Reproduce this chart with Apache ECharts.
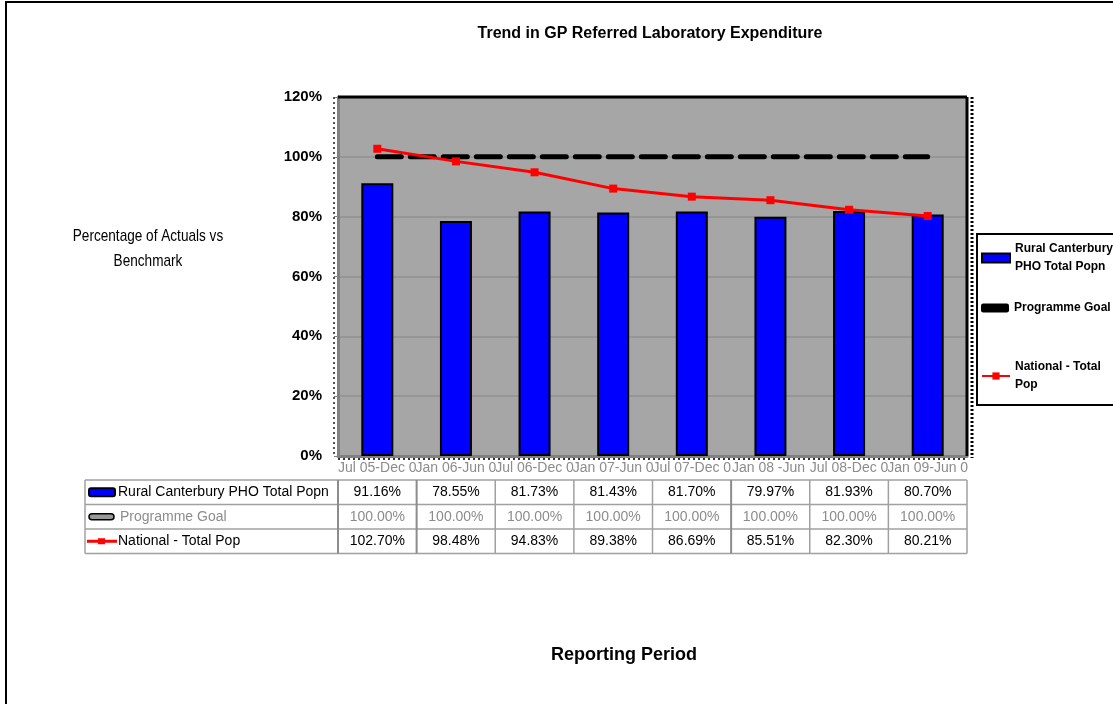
<!DOCTYPE html>
<html>
<head>
<meta charset="utf-8">
<script src="https://cdn.jsdelivr.net/npm/echarts@6/dist/echarts.min.js"></script>
<style>
  html, body { margin: 0; padding: 0; background: #fff; }
  #chart { width: 1113px; height: 704px; }
</style>
</head>
<body>
<div id="chart"></div>
<script>
// reporting periods (x axis)
const categories = ['Jul 05-Dec 05', 'Jan 06-Jun 06', 'Jul 06-Dec 06', 'Jan 07-Jun 07', 'Jul 07-Dec 07', 'Jan 08 -Jun 08', 'Jul 08-Dec 08', 'Jan 09-Jun 09']
// percentage values
const ruralValues = [91.16, 78.55, 81.73, 81.43, 81.70, 79.97, 81.93, 80.70]
const goalValues = [100, 100, 100, 100, 100, 100, 100, 100]
const nationalValues = [102.70, 98.48, 94.83, 89.38, 86.69, 85.51, 82.30, 80.21]
const seriesNames = ['Rural Canterbury PHO Total Popn', 'Programme Goal', 'National - Total Pop']
const legendLabels = ['Rural Canterbury\nPHO Total Popn', 'Programme Goal', 'National - Total\nPop']
const yTicks = [0, 20, 40, 60, 80, 100, 120]

const FONT = "'Liberation Sans', Arial, sans-serif"

// plot area
const gridLeft = 338, gridTop = 97, gridRight = 967, gridBottom = 456
const colW = (gridRight - gridLeft) / categories.length

// data table under the axis
const tableLeft = 85, tableTop = 480, rowH = 24.5
const tableRows = [ruralValues, goalValues, nationalValues]
const tableColors = ['#000', '#8c8c8c', '#000']

const buildTable = () => {
  const els = []
  const lineColor = '#a0a0a0'
  for (let r = 0; r <= tableRows.length; r++) {
    els.push({
      type: 'line', silent: true,
      shape: { x1: tableLeft, y1: tableTop + r * rowH, x2: gridRight, y2: tableTop + r * rowH },
      style: { stroke: lineColor, lineWidth: 1.5 }
    })
  }
  const xs = [tableLeft]
  for (let c = 0; c <= categories.length; c++) xs.push(gridLeft + c * colW)
  xs.forEach((x, i) => {
    const dark = i === 1 || i === 2 || i === 6
    els.push({
      type: 'line', silent: true,
      shape: { x1: x, y1: tableTop, x2: x, y2: tableTop + tableRows.length * rowH },
      style: { stroke: dark ? '#8c8c8c' : lineColor, lineWidth: dark ? 2 : 1.5 }
    })
  })
  tableRows.forEach((vals, r) => {
    const cy = tableTop + r * rowH + rowH / 2
    els.push({
      type: 'text', silent: true,
      style: { text: seriesNames[r], x: r === 1 ? 120 : 118, y: cy, fill: tableColors[r], font: '14px ' + FONT, textVerticalAlign: 'middle', textAlign: 'left' }
    })
    vals.forEach((v, c) => {
      els.push({
        type: 'text', silent: true,
        style: { text: v.toFixed(2) + '%', x: gridLeft + c * colW + colW / 2, y: cy, fill: tableColors[r], font: '14px ' + FONT, textAlign: 'center', textVerticalAlign: 'middle' }
      })
    })
  })
  // legend keys inside the table
  const y0 = tableTop + rowH / 2
  els.push({ type: 'rect', silent: true, shape: { x: 89, y: y0 - 4, width: 26, height: 8, r: 2 }, style: { fill: '#0000ff', stroke: '#000', lineWidth: 2 } })
  const y1 = tableTop + rowH * 1.5
  els.push({ type: 'rect', silent: true, shape: { x: 89, y: y1 - 3, width: 25, height: 6, r: 3 }, style: { fill: '#999', stroke: '#000', lineWidth: 1.5 } })
  const y2 = tableTop + rowH * 2.5
  els.push({ type: 'line', silent: true, shape: { x1: 87, y1: y2, x2: 117, y2: y2 }, style: { stroke: '#ff0000', lineWidth: 3 } })
  els.push({ type: 'rect', silent: true, shape: { x: 98, y: y2 - 3, width: 7, height: 6 }, style: { fill: '#ff0000' } })
  return els
}

// one legend block per series, placed like the original
const legendTops = [240, 299, 358]
const legends = seriesNames.map((name, i) => ({
  orient: 'vertical',
  left: 981,
  top: legendTops[i],
  padding: 0,
  itemGap: 0,
  itemWidth: 28, itemHeight: 9,
  formatter: n => legendLabels[seriesNames.indexOf(n)],
  textStyle: { fontFamily: FONT, fontSize: 12, fontWeight: 'bold', color: '#000', lineHeight: 18 },
  data: [i === 0 ? { name, icon: 'rect' } : i === 1 ? { name, icon: 'roundRect' } : { name }]
}))

const chart = echarts.init(document.getElementById('chart'))

const option = {
  backgroundColor: '#fff',
  animation: false,
  title: [
    {
      text: 'Trend in GP Referred Laboratory Expenditure',
      left: 645, top: 21, textAlign: 'center',
      textStyle: { fontFamily: FONT, fontSize: 16, fontWeight: 'bold', color: '#000' }
    },
    {
      text: 'Reporting Period',
      left: 619, top: 641, textAlign: 'center',
      textStyle: { fontFamily: FONT, fontSize: 18, fontWeight: 'bold', color: '#000' }
    }
  ],
  legend: legends,
  grid: {
    left: gridLeft, top: gridTop,
    width: gridRight - gridLeft, height: gridBottom - gridTop,
    show: true, backgroundColor: '#a6a6a6', borderWidth: 0
  },
  xAxis: {
    type: 'category',
    data: categories,
    axisLine: { show: true, lineStyle: { color: '#808080', width: 3 } },
    axisTick: { show: false },
    axisLabel: {
      interval: 0, margin: 5,
      color: '#8c8c8c', fontFamily: FONT, fontSize: 14,
      width: colW + 8, overflow: 'truncate', ellipsis: ''
    }
  },
  yAxis: {
    type: 'value',
    min: 0, max: 120, interval: 20,
    axisLine: { show: true, lineStyle: { color: '#808080', width: 3 } },
    axisTick: { show: true, length: 4, lineStyle: { color: '#808080' } },
    axisLabel: {
      margin: 16,
      color: '#000', fontFamily: FONT, fontSize: 15, fontWeight: 'bold',
      formatter: v => yTicks.includes(v) ? v + '%' : ''
    },
    splitLine: { show: true, lineStyle: { color: '#969696', width: 2 } }
  },
  series: [
    {
      name: seriesNames[0],
      type: 'bar',
      data: ruralValues,
      barWidth: 32,
      itemStyle: { color: '#0000ff', borderColor: '#000', borderWidth: 2 },
      z: 2
    },
    {
      name: seriesNames[1],
      type: 'line',
      data: goalValues,
      symbol: 'none',
      itemStyle: { color: '#000' },
      lineStyle: { color: '#000', width: 5, type: [24, 9], cap: 'round' },
      z: 3
    },
    {
      name: seriesNames[2],
      type: 'line',
      data: nationalValues,
      symbol: 'rect',
      symbolSize: 8,
      itemStyle: { color: '#ff0000' },
      lineStyle: { color: '#ff0000', width: 3 },
      z: 4
    }
  ],
  graphic: [
    // outer frame of the chart
    { type: 'rect', silent: true, z: -10, shape: { x: 6, y: 2, width: 1200, height: 800 }, style: { fill: 'none', stroke: '#000', lineWidth: 2 } },
    // legend frame
    { type: 'rect', silent: true, z: -5, shape: { x: 977, y: 234, width: 200, height: 171 }, style: { fill: '#fff', stroke: '#000', lineWidth: 2 } },
    // y axis title (condensed look)
    {
      type: 'text', silent: true, x: 148, y: 224, scaleX: 0.8,
      style: { text: 'Percentage of Actuals vs\nBenchmark', x: 0, y: 0, textAlign: 'center', font: '17px ' + FONT, lineHeight: 25, fill: '#000' }
    },
    // top and right border of the plot area
    { type: 'line', silent: true, z: 10, shape: { x1: gridLeft, y1: gridTop, x2: gridRight, y2: gridTop }, style: { stroke: '#000', lineWidth: 3 } },
    { type: 'line', silent: true, z: 10, shape: { x1: gridRight, y1: gridTop, x2: gridRight, y2: gridBottom }, style: { stroke: '#000', lineWidth: 3 } },
    // dotted edges
    { type: 'line', silent: true, z: 10, shape: { x1: gridRight + 5, y1: gridTop, x2: gridRight + 5, y2: gridBottom + 2 }, style: { stroke: '#000', lineWidth: 3, lineDash: [2, 2] } },
    { type: 'line', silent: true, z: 10, shape: { x1: gridLeft - 4, y1: gridTop, x2: gridLeft - 4, y2: gridBottom }, style: { stroke: '#555', lineWidth: 2, lineDash: [2, 3] } },
    { type: 'line', silent: true, z: 10, shape: { x1: gridLeft, y1: gridBottom + 3, x2: gridRight, y2: gridBottom + 3 }, style: { stroke: '#333', lineWidth: 2, lineDash: [2, 3] } },
    ...buildTable()
  ]
}

chart.setOption(option)
</script>
</body>
</html>
